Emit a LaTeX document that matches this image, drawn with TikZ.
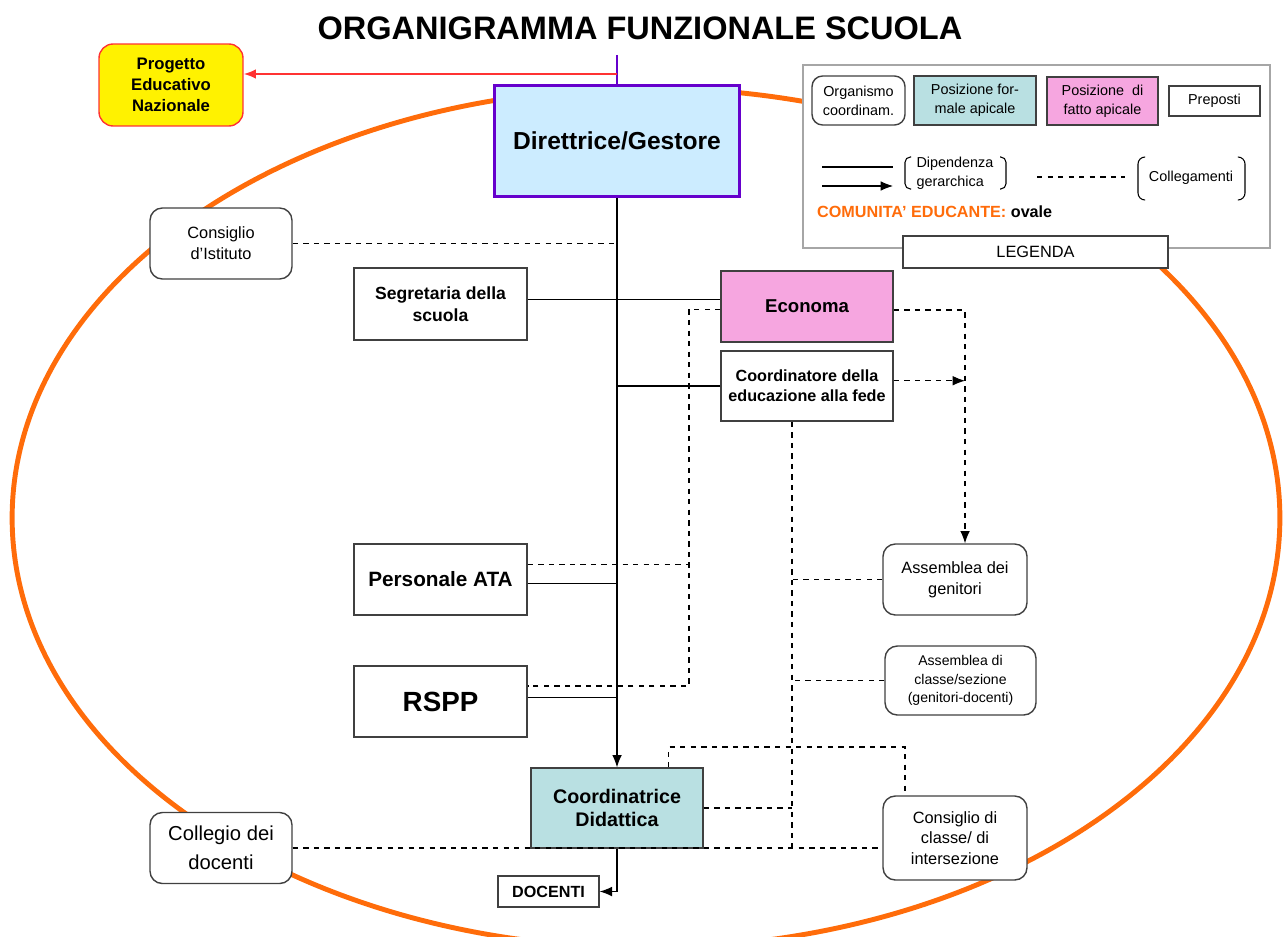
\documentclass[tikz,border=0pt]{standalone}
\usepackage{fontspec}
\setmainfont{Liberation Sans}
\usetikzlibrary{arrows.meta}
\definecolor{oval}{RGB}{255,108,10}
\definecolor{dirblue}{RGB}{204,236,255}
\definecolor{dirpurple}{RGB}{102,0,204}
\definecolor{apicalpink}{RGB}{246,166,224}
\definecolor{formalteal}{RGB}{185,224,226}
\definecolor{penred}{RGB}{255,50,50}
\definecolor{boxgray}{RGB}{64,64,64}
\newcommand{\fnorm}{\fontsize{9.3}{11.8}\selectfont}
\newcommand{\fleg}{\fontsize{8.2}{10.8}\selectfont}
\begin{document}
\begin{tikzpicture}
        [x=0.02cm,y=-0.02cm,
         >={Latex[length=7pt,width=5.5pt]},
         box/.style={draw=boxgray,line width=0.8pt,fill=white,align=center,inner sep=1pt},
         rbox/.style={box,rounded corners=7pt},
         link/.style={dashed,line width=0.6pt},
         dep/.style={line width=0.6pt}]
        \useasboundingbox (0,0) rectangle (1283,936);

        % comunita' educante
        \draw[oval,line width=2.8pt] (646,518) ellipse [x radius=12.68cm,y radius=8.6cm];
        \draw[black!35,fill=white,line width=0.8pt] (803,65) rectangle (1270,248);

        \node (title) at (640,28) {\fontsize{18.5}{22}\selectfont\bfseries ORGANIGRAMMA FUNZIONALE SCUOLA};

        \node[box,draw=dirpurple,line width=1.7pt,fill=dirblue,minimum width=4.9cm,minimum height=2.24cm,font={\fontsize{14}{17}\selectfont\bfseries}] (dir) at (617,141) {Direttrice/Gestore};
        \node[box,draw=penred,fill=yellow,rounded corners=8pt,minimum width=2.88cm,minimum height=1.64cm,font={\fontsize{9.5}{11.9}\selectfont\bfseries}] (pen) at (171,85) {Progetto\\Educativo\\Nazionale};
        \node[rbox,minimum width=2.84cm,minimum height=1.42cm,font=\fnorm] (cdi) at (221,243.5) {Consiglio\\d’Istituto};
        \node[box,minimum width=3.46cm,minimum height=1.44cm,font={\fontsize{10}{12.5}\selectfont\bfseries}] (segr) at (440.5,304) {Segretaria della\\scuola};
        \node[box,fill=apicalpink,minimum width=3.44cm,minimum height=1.42cm,font={\fontsize{10.6}{13}\selectfont\bfseries}] (econ) at (807,306.5) {Economa};
        \node[box,minimum width=3.44cm,minimum height=1.4cm,font={\fontsize{9.2}{11.4}\selectfont\bfseries}] (cfede) at (807,386) {Coordinatore della\\educazione alla fede};
        \node[box,minimum width=3.46cm,minimum height=1.42cm,font={\fontsize{11.8}{14}\selectfont\bfseries}] (ata) at (440.5,579.5) {Personale ATA};
        \node[box,minimum width=3.46cm,minimum height=1.42cm,font={\fontsize{15.8}{18}\selectfont\bfseries}] (rspp) at (440.5,701.5) {RSPP};
        \node[box,fill=formalteal,minimum width=3.44cm,minimum height=1.6cm,font={\fontsize{11.2}{13.6}\selectfont\bfseries}] (cdid) at (617,808) {Coordinatrice\\Didattica};
        \node[box,minimum width=2.02cm,minimum height=0.62cm,font={\fontsize{9.2}{11}\selectfont\bfseries}] (doc) at (548.5,891.5) {DOCENTI};
        \node[rbox,minimum width=2.88cm,minimum height=1.42cm,font=\fnorm] (agen) at (955,579.5) {Assemblea dei\\genitori};
        \node[rbox,minimum width=3.02cm,minimum height=1.38cm,font={\fontsize{8}{10.5}\selectfont}] (acl) at (960.5,680.5) {Assemblea di\\classe/sezione\\(genitori-docenti)};
        \node[rbox,minimum width=2.88cm,minimum height=1.68cm,font=\fnorm] (ccl) at (955,838) {Consiglio di\\classe/ di\\intersezione};
        \node[rbox,minimum width=2.84cm,minimum height=1.42cm,font={\fontsize{11.5}{16.4}\selectfont}] (cdoc) at (221,848) {Collegio dei\\docenti};

        % legenda
        \node[rbox,rounded corners=6pt,minimum width=1.86cm,minimum height=0.98cm,font=\fleg] (org) at (858.5,100.5) {Organismo\\coordinam.};
        \node[box,fill=formalteal,minimum width=2.44cm,minimum height=0.98cm,font=\fleg] (pfa) at (975,100.5) {Posizione for-\\male apicale};
        \node[box,fill=apicalpink,minimum width=2.22cm,minimum height=0.96cm,font=\fleg] (pfat) at (1102.5,101) {Posizione~~di\\fatto apicale};
        \node[box,minimum width=1.82cm,minimum height=0.6cm,font=\fleg] (prep) at (1214.5,101) {Preposti};
        \node[box,minimum width=5.3cm,minimum height=0.64cm,font=\fnorm] (leg) at (1035.5,252) {LEGENDA};

        \draw[dep] (822,167) -- (893,167);
        \draw[dep,->] (822,186) -- (893,186);
        \draw[dep,rounded corners=3pt] (911,157) -- (905,157) -- (905,189) -- (911,189);
        \draw[dep,rounded corners=3pt] (1000,157) -- (1006,157) -- (1006,189) -- (1000,189);
        \node[align=left,font=\fleg] (depl) at (955,173) {Dipendenza\\gerarchica};
        \draw[link] (1037,177) -- (1125,177);
        \draw[dep,rounded corners=4pt] (1145,157) -- (1138,157) -- (1138,200) -- (1145,200);
        \node[font=\fleg] (coll) at (1191,178) {Collegamenti};
        \draw[dep,rounded corners=4pt] (1238,157) -- (1245,157) -- (1245,200) -- (1238,200);
        \node[anchor=west,font={\fontsize{9.2}{11}\selectfont\bfseries}] (comm) at (811,212) {\textcolor{oval}{COMUNITA’ EDUCANTE:} ovale};

        % collegamenti
        \coordinate (ptop) at (617,55);
        \coordinate (psplit) at (617,74);
        \coordinate (lbus) at (689,686);
        \coordinate (rbus) at (965,381);
        \coordinate (mbus) at (792,848);
        \coordinate (tbus) at (905,747);

        \draw[dirpurple,line width=1pt] (ptop) -- (dir.north);
        \draw[penred,line width=1pt,->] (psplit) -- (psplit -| pen.east);
        \draw[dep,->] (dir.south) -- (cdid.north);
        \draw[dep,->] (cdid.south) |- (doc.east);

        \draw[link] (cdi.east) -- (cdi.east -| dir.south);
        \draw[dep] ([yshift=2.8pt]segr.east) -- ([yshift=2.8pt]segr.east -| econ.west);
        \draw[dep] (cfede.west) -- (cfede.west -| dir.south);
        \draw[dep] ([yshift=-2.5pt]ata.east) -- ([yshift=-2.5pt]ata.east -| dir.south);
        \draw[dep] ([yshift=2.5pt]rspp.east) -- ([yshift=2.5pt]rspp.east -| dir.south);

        \draw[link] ([yshift=-1.5pt]econ.west) -| (lbus) -- (lbus -| rspp.east);
        \draw[link] ([yshift=8.8pt]ata.east) -- ([yshift=8.8pt]ata.east -| lbus);
        \draw[link,->] ([yshift=-2pt]econ.east) -| (rbus |- agen.north);
        \draw[link,->] ([yshift=3pt]cfede.east) -- ([yshift=3pt]cfede.east -| rbus);

        \draw[link] (mbus |- cfede.south) -- (mbus);
        \draw[link] (agen.west) -- (agen.west -| mbus);
        \draw[link] (acl.west) -- (acl.west -| mbus);
        \draw[link] (cdid.east) -- (cdid.east -| mbus);
        \draw[link] (cdoc.east) -- (cdoc.east -| ccl.west);
        \draw[link] ([xshift=29.5pt]cdid.north) |- (tbus) -- (tbus |- ccl.north);
      \end{tikzpicture}
\end{document}
